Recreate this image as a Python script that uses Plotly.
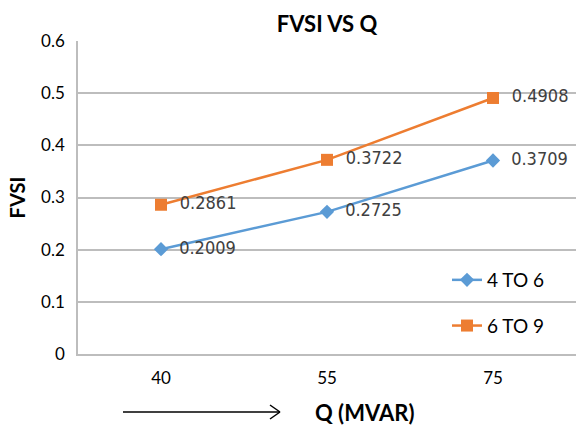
import plotly.graph_objects as go

# Reactive power injection (MVAR) and FVSI for two lines
q_labels = ["40", "55", "75"]
fvsi_4_to_6 = [0.2009, 0.2725, 0.3709]
fvsi_6_to_9 = [0.2861, 0.3722, 0.4908]
y_ticks = [0, 0.1, 0.2, 0.3, 0.4, 0.5, 0.6]

BLUE = "#5B9BD5"
ORANGE = "#ED7D31"
GRID = "#BDBDBD"
FONT = "Lato, Calibri, Carlito, sans-serif"
LABEL_FONT = "'Liberation Sans Narrow', 'DejaVu Sans Condensed', Roboto, sans-serif"
PAD = "\u00a0\u00a0"

W, H = 576, 436
L, R, T, B = 78, 0, 41, 82

x_idx = list(range(len(q_labels)))

fig = go.Figure()
fig.add_trace(go.Scatter(
    x=x_idx, y=fvsi_4_to_6, name="4 TO 6", legendgroup="a",
    mode="lines+markers+text",
    line=dict(color=BLUE, width=2.5),
    marker=dict(symbol="diamond", size=11, color=BLUE),
    text=[PAD + f"{v:.4f}" for v in fvsi_4_to_6],
    textposition="middle right",
    textfont=dict(family=LABEL_FONT, size=18, color="#404040"),
    cliponaxis=False,
))
fig.add_trace(go.Scatter(
    x=x_idx, y=fvsi_6_to_9, name="6 TO 9", legendgroup="b",
    mode="lines+markers+text",
    line=dict(color=ORANGE, width=2.5),
    marker=dict(symbol="square", size=12, color=ORANGE),
    text=[PAD + f"{v:.4f}" for v in fvsi_6_to_9],
    textposition="middle right",
    textfont=dict(family=LABEL_FONT, size=18, color="#404040"),
    cliponaxis=False,
))

def px_x(p):
    return (p - L) / (W - L - R)

def px_y(p):
    return (H - B - p) / (H - T - B)

# Arrow pointing along the Q axis
ay = px_y(412)
x0, x1 = px_x(123), px_x(280)
shapes = [
    dict(type="line", xref="paper", yref="paper", x0=x0, x1=x1, y0=ay, y1=ay,
         line=dict(color="black", width=1.5)),
    dict(type="line", xref="paper", yref="paper", x0=px_x(270), x1=x1,
         y0=px_y(405), y1=ay, line=dict(color="black", width=1.5)),
    dict(type="line", xref="paper", yref="paper", x0=px_x(270), x1=x1,
         y0=px_y(419), y1=ay, line=dict(color="black", width=1.5)),
]

fig.update_layout(
    width=W, height=H,
    margin=dict(l=L, r=R, t=T, b=B),
    paper_bgcolor="white", plot_bgcolor="white",
    font=dict(family=FONT, color="black"),
    title=dict(text="FVSI VS Q", x=0.5, xref="paper", xanchor="center",
               y=1 - 24 / H, yanchor="middle",
               font=dict(family=FONT, size=22, color="black", weight="bold")),
    showlegend=True,
    legend=dict(x=px_x(447), y=px_y(261), xanchor="left", yanchor="top",
                font=dict(family=FONT, size=19, color="black"),
                bgcolor="rgba(0,0,0,0)", tracegroupgap=18),
    shapes=shapes,
    annotations=[dict(text="Q (MVAR)", xref="paper", yref="paper",
                      x=px_x(364), y=ay, xanchor="center", yanchor="middle",
                      showarrow=False,
                      font=dict(family=FONT, size=22, color="black", weight="bold"))],
)
fig.update_xaxes(
    range=[-0.5, 2.5], tickmode="array", tickvals=x_idx, ticktext=q_labels,
    showgrid=False, zeroline=False, showline=True, linecolor=GRID, linewidth=1.5,
    tickfont=dict(family=FONT, size=17, color="black"), ticklabelstandoff=8,
)
fig.update_yaxes(
    range=[0, 0.6], tickmode="array", tickvals=y_ticks,
    ticktext=["0" if v == 0 else f"{v:.1f}" for v in y_ticks],
    showgrid=True, gridcolor=GRID, gridwidth=1.5, zeroline=False,
    showline=True, linecolor=GRID, linewidth=1.5,
    tickfont=dict(family=FONT, size=17, color="black"), ticklabelstandoff=8,
    title=dict(text="FVSI", font=dict(family=FONT, size=20, color="black", weight="bold"),
               standoff=10),
)

fig.write_html("out.html")
